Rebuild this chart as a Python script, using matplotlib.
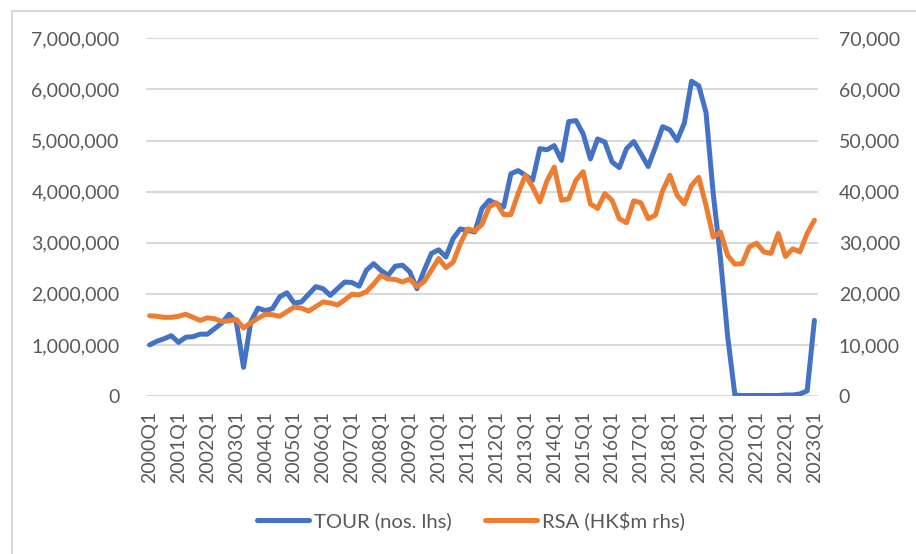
import numpy as np
import matplotlib.pyplot as plt
from matplotlib.patches import Rectangle
from matplotlib.ticker import FuncFormatter

plt.rcParams['font.family'] = ['Lato', 'DejaVu Sans']

# quarterly labels 2000Q1 .. 2023Q1
years = list(range(2000, 2024))
quarters = [f'{y}Q{q}' for y in years for q in range(1, 5)][:93]

# visitor arrivals (millions, left axis)
tour_m = [1.00, 1.07, 1.12, 1.18, 1.05, 1.15, 1.16, 1.21, 1.21, 1.32, 1.43, 1.60,
          1.45, 0.56, 1.45, 1.72, 1.67, 1.71, 1.94, 2.02, 1.82, 1.84, 1.99, 2.14,
          2.10, 1.97, 2.10, 2.23, 2.22, 2.15, 2.46, 2.59, 2.46, 2.36, 2.54, 2.56,
          2.43, 2.10, 2.46, 2.79, 2.86, 2.72, 3.08, 3.27, 3.24, 3.21, 3.67, 3.83,
          3.76, 3.70, 4.35, 4.41, 4.32, 4.22, 4.84, 4.82, 4.90, 4.61, 5.37, 5.39,
          5.13, 4.64, 5.03, 4.97, 4.58, 4.47, 4.84, 4.98, 4.74, 4.49, 4.87, 5.27,
          5.21, 5.00, 5.34, 6.16, 6.07, 5.55, 3.96, 2.70, 1.16, 0.02, 0.01, 0.01,
          0.01, 0.01, 0.01, 0.01, 0.02, 0.02, 0.04, 0.10, 1.48]

# retail sales (HK$ thousand million, right axis)
rsa_k = [15.7, 15.6, 15.4, 15.4, 15.6, 16.0, 15.4, 14.8, 15.3, 15.1, 14.6, 14.7,
         15.0, 13.3, 14.3, 15.2, 16.0, 15.9, 15.6, 16.5, 17.4, 17.2, 16.6, 17.5,
         18.4, 18.2, 17.8, 18.8, 19.9, 19.8, 20.4, 21.9, 23.6, 22.9, 22.8, 22.3,
         22.9, 21.4, 22.4, 24.6, 26.9, 25.1, 26.2, 29.8, 32.7, 32.3, 33.6, 37.0,
         37.8, 35.5, 35.5, 39.6, 43.2, 40.9, 38.0, 42.1, 44.8, 38.3, 38.6, 42.2,
         43.9, 37.6, 36.7, 39.6, 38.3, 34.7, 33.9, 38.2, 37.8, 34.7, 35.4, 40.2,
         43.2, 39.3, 37.6, 41.2, 42.8, 37.3, 31.1, 32.1, 27.5, 25.8, 25.9, 29.2,
         29.9, 28.2, 27.9, 31.8, 27.3, 28.8, 28.2, 31.8, 34.4]

tour = np.array(tour_m) * 1e6
rsa = np.array(rsa_k) * 1e3

blue = '#4472C4'
orange = '#ED7D31'
grey = '#595959'
grid = '#D9D9D9'

W, H = 916, 554
fig = plt.figure(figsize=(W / 100, H / 100), dpi=100)
ax = fig.add_axes([146 / W, 1 - 396 / H, (818 - 146) / W, (396 - 38.3) / H])
ax2 = ax.twinx()

x = np.arange(len(quarters))
l1, = ax.plot(x, tour, color=blue, lw=3.6, solid_joinstyle='round',
              solid_capstyle='round', label='TOUR (nos. lhs)')
l2, = ax2.plot(x, rsa, color=orange, lw=3.6, solid_joinstyle='round',
               solid_capstyle='round', label='RSA (HK$m rhs)')

ax.set_xlim(-0.5, len(quarters) - 0.5)
ax.set_ylim(0, 7e6)
ax2.set_ylim(0, 7e4)
ax.set_yticks(np.arange(0, 7.01e6, 1e6))
ax2.set_yticks(np.arange(0, 70001, 10000))
fmt = FuncFormatter(lambda v, p: f'{v:,.0f}')
ax.yaxis.set_major_formatter(fmt)
ax2.yaxis.set_major_formatter(fmt)

ax.set_xticks(x[::4])
ax.set_xticklabels(quarters[::4], rotation=90, va='top', ha='center')

ax.grid(axis='y', color=grid, lw=1.5)
ax.set_axisbelow(True)
for a in (ax, ax2):
    for s in a.spines.values():
        s.set_visible(False)
ax.tick_params(axis='y', length=0, pad=19, labelsize=14, labelcolor=grey)
ax.tick_params(axis='x', length=0, pad=11, labelsize=14, labelcolor=grey)
ax2.tick_params(axis='y', length=0, pad=15, labelsize=14, labelcolor=grey)

fig.legend(handles=[l1, l2], loc='center', bbox_to_anchor=(471 / W, 1 - 521 / H),
           ncol=2, frameon=False, fontsize=14.6, labelcolor=grey,
           handlelength=2.56, handletextpad=0.25, columnspacing=1.63, borderpad=0)

# chart border (only left/top edges fall inside the image)
fig.patches.append(Rectangle((12 / W, -0.5), 2, 1.5 - 11 / H, transform=fig.transFigure,
                             fill=False, edgecolor=grid, lw=1.5))

fig.savefig('out.png', dpi=100)
